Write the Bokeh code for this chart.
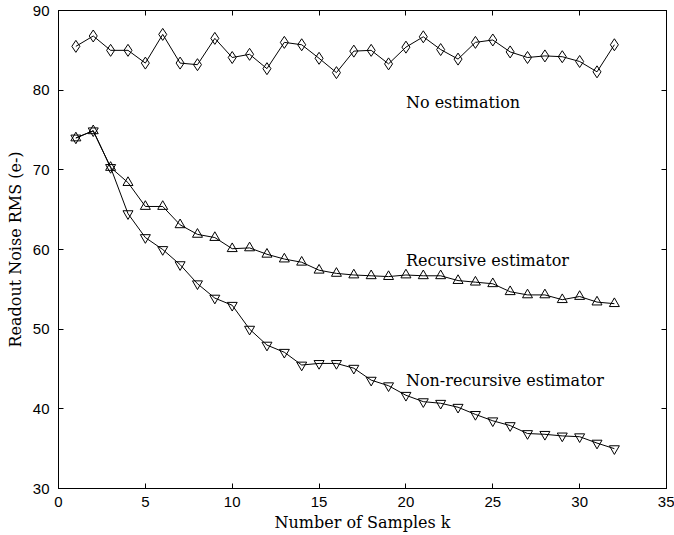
from bokeh.plotting import figure
from bokeh.models import LinearAxis, SingleIntervalTicker, Range1d, Label
from bokeh.embed import file_html
from bokeh.resources import INLINE

k = list(range(1, 33))
no_estimation = [85.5, 86.8, 85.0, 85.0, 83.4, 87.0, 83.4, 83.2, 86.5, 84.1,
                 84.5, 82.7, 86.0, 85.7, 84.0, 82.2, 84.9, 85.0, 83.3, 85.4,
                 86.7, 85.1, 83.9, 86.0, 86.3, 84.8, 84.1, 84.3, 84.2, 83.6,
                 82.3, 85.7]
recursive = [74.0, 74.9, 70.3, 68.4, 65.4, 65.4, 63.1, 61.9, 61.5, 60.1,
             60.2, 59.4, 58.8, 58.4, 57.4, 57.0, 56.8, 56.7, 56.6, 56.8,
             56.7, 56.7, 56.1, 55.9, 55.7, 54.7, 54.3, 54.3, 53.7, 54.1,
             53.4, 53.2]
non_recursive = [74.0, 74.9, 70.3, 64.5, 61.5, 60.0, 58.1, 55.7, 53.9, 53.0,
                 50.0, 48.0, 47.1, 45.5, 45.7, 45.7, 45.1, 43.6, 42.9, 41.7,
                 40.9, 40.7, 40.2, 39.3, 38.5, 37.9, 36.9, 36.8, 36.6, 36.5,
                 35.7, 35.0]
series_labels = ["No estimation", "Recursive estimator", "Non-recursive estimator"]

SERIF = "DejaVu Serif"
SANS = "Liberation Sans"

p = figure(width=674, height=535, output_backend="svg", toolbar_location=None,
           x_range=Range1d(0, 35), y_range=Range1d(30, 90),
           min_border_left=58, min_border_right=8, min_border_top=10, min_border_bottom=47,
           background_fill_color="white", border_fill_color="white")
p.outline_line_color = "black"
p.outline_line_width = 1
p.grid.visible = False

def style_axis(ax, labels=True):
    ax.axis_line_color = "black"
    ax.major_tick_in = 5
    ax.major_tick_out = 0
    ax.minor_tick_line_color = None
    ax.major_tick_line_color = "black"
    if labels:
        ax.major_label_text_font = SANS
        ax.major_label_text_font_size = "15px"
        ax.major_label_text_color = "black"
        ax.axis_label_text_font = SERIF
        ax.axis_label_text_font_size = "16px"
        ax.axis_label_text_font_style = "normal"
        ax.axis_label_text_color = "black"
    else:
        ax.major_label_text_font_size = "1px"
        ax.major_label_text_color = None
        ax.major_label_standoff = 0

p.xaxis.ticker = SingleIntervalTicker(interval=5)
p.yaxis.ticker = SingleIntervalTicker(interval=10)
p.xaxis.axis_label = "Number of Samples k"
p.yaxis.axis_label = "Readout Noise RMS (e-)"
style_axis(p.xaxis[0])
style_axis(p.yaxis[0])
p.xaxis.major_label_standoff = 4
p.xaxis.axis_label_standoff = 3
p.yaxis.major_label_standoff = 5
p.yaxis.axis_label_standoff = 5

top = LinearAxis(ticker=SingleIntervalTicker(interval=5))
right = LinearAxis(ticker=SingleIntervalTicker(interval=10))
style_axis(top, labels=False)
style_axis(right, labels=False)
p.add_layout(top, "above")
p.add_layout(right, "right")

p.line(k, no_estimation, line_color="black", line_width=1)
p.scatter(k, no_estimation, marker="diamond", size=12, line_color="black",
          fill_color=None, line_width=1)
p.line(k, recursive, line_color="black", line_width=1)
p.scatter(k, recursive, marker="triangle", size=10, line_color="black",
          fill_color=None, line_width=1)
p.line(k, non_recursive, line_color="black", line_width=1)
p.scatter(k, non_recursive, marker="inverted_triangle", size=10, line_color="black",
          fill_color=None, line_width=1)

for txt, yy in zip(series_labels, [78.5, 58.6, 43.6]):
    p.add_layout(Label(x=20, y=yy, text=txt, text_font=SERIF, text_font_size="16px",
                       text_color="black", text_baseline="alphabetic"))

open("out.html", "w").write(file_html(p, INLINE))
